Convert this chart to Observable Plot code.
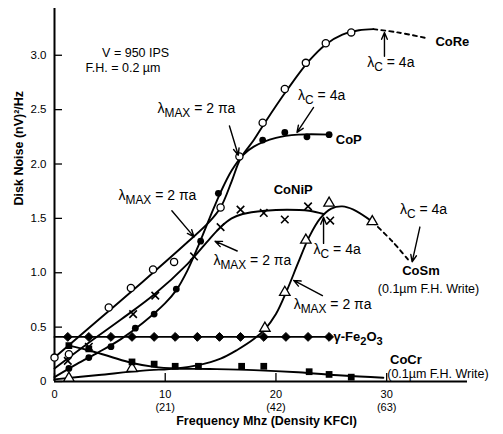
<!DOCTYPE html>
<html><head><meta charset="utf-8">
<script src="https://cdn.jsdelivr.net/npm/d3@7"></script>
<script src="https://cdn.jsdelivr.net/npm/@observablehq/plot@0.6"></script>
<style>body{margin:0;background:#fff;}</style>
</head><body><div id="chart"></div>
<script>
// ---- axes ----
const xTicks = [0, 10, 20, 30];
const xTickLabels = ["0", "10\n(21)", "20\n(42)", "30\n(63)"];
const yTicks = [0, 0.5, 1, 1.5, 2, 2.5, 3];
const yTickLabels = ["0", "0.5", "1.0", "1.5", "2.0", "2.5", "3.0"];

// ---- CoRe (open circles) ----
const coreX = [0, 1.3, 4.9, 6.9, 8.9, 10.8, 15.0, 16.7, 18.8, 20.8, 22.7, 24.5, 26.8];
const coreY = [0.22, 0.25, 0.68, 0.86, 1.03, 1.10, 1.60, 2.07, 2.38, 2.69, 2.93, 3.11, 3.21];
const coreLineX = [0, 4, 8, 12, 14, 15, 16, 16.8, 18, 19, 21, 23, 24.5, 26, 27.5, 28.8];
const coreLineY = [0.22, 0.57, 0.92, 1.28, 1.47, 1.60, 1.84, 2.05, 2.22, 2.38, 2.68, 2.95, 3.10, 3.19, 3.23, 3.24];
const coreDashX = [28.8, 31, 33.5];
const coreDashY = [3.24, 3.21, 3.16];

// ---- CoP (filled circles) ----
const copX = [1.3, 3.1, 5.1, 7.3, 9.0, 11.0, 13.2, 14.8, 18.8, 20.8, 22.8, 24.8];
const copY = [0.12, 0.22, 0.32, 0.49, 0.62, 0.85, 1.29, 1.73, 2.22, 2.29, 2.25, 2.27];
const copLineX = [0, 2, 4, 6, 8, 10, 11, 12, 13, 14, 15, 16, 17, 18, 20, 22, 25];
const copLineY = [0.04, 0.16, 0.27, 0.39, 0.54, 0.72, 0.84, 1.02, 1.25, 1.50, 1.74, 1.94, 2.08, 2.16, 2.24, 2.27, 2.27];

// ---- CoNiP (x marks) ----
const conipX = [1.2, 3.1, 7.1, 9.1, 12.6, 15.0, 16.8, 18.9, 20.8, 22.9, 24.9];
const conipY = [0.19, 0.32, 0.62, 0.79, 1.15, 1.42, 1.58, 1.55, 1.49, 1.61, 1.48];
const conipLineX = [0, 3, 6, 9, 12, 14, 15, 16, 17, 19, 21, 23, 24.3];
const conipLineY = [0.12, 0.35, 0.57, 0.80, 1.08, 1.31, 1.42, 1.50, 1.54, 1.57, 1.58, 1.57, 1.54];

// ---- CoSm (open triangles) ----
const cosmX = [1.3, 7.0, 19.0, 20.8, 22.7, 24.8, 28.7];
const cosmY = [0.03, 0.12, 0.49, 0.82, 1.30, 1.64, 1.47];
const cosmLineX = [0, 4, 8, 11, 13, 15, 16.5, 18, 19, 20, 21, 22, 23, 24, 25, 26, 27, 28.7];
const cosmLineY = [0.02, 0.06, 0.10, 0.12, 0.15, 0.21, 0.29, 0.39, 0.48, 0.62, 0.84, 1.09, 1.33, 1.50, 1.59, 1.61, 1.58, 1.47];
const cosmDashX = [28.7, 30.5, 32.1];
const cosmDashY = [1.47, 1.29, 1.10];

// ---- gamma-Fe2O3 (filled diamonds) ----
const fe2o3X = [1.2, 3.1, 5.1, 7.0, 9.0, 10.9, 12.9, 14.9, 16.8, 18.9, 20.9, 22.9, 24.8];
const fe2o3Y = [0.41, 0.41, 0.41, 0.41, 0.41, 0.41, 0.41, 0.41, 0.41, 0.41, 0.41, 0.41, 0.41];
const fe2o3LineX = [0, 24.8];
const fe2o3LineY = [0.41, 0.41];

// ---- CoCr (filled squares) ----
const cocrX = [1.3, 3.1, 7.0, 9.0, 10.9, 13.0, 16.9, 18.9, 23.0, 24.8, 26.8];
const cocrY = [0.33, 0.30, 0.18, 0.16, 0.14, 0.14, 0.14, 0.14, 0.09, 0.065, 0.04];
const cocrLineX = [1.3, 3, 5, 7, 9, 11, 14, 18, 22, 26, 29.7];
const cocrLineY = [0.33, 0.29, 0.23, 0.17, 0.135, 0.12, 0.115, 0.105, 0.085, 0.055, 0.035];

// ---- annotations ----
const noteText = ["V = 950 IPS", "F.H. = 0.2 µm",
  "λ_{MAX} = 2 πa", "λ_{MAX} = 2 πa", "λ_{MAX} = 2 πa", "λ_{MAX} = 2 πa",
  "λ_{C} = 4a", "λ_{C} = 4a", "λ_{C} = 4a", "λ_{C} = 4a"];
const noteX = [4.3, 2.8, 9.3, 5.78, 14.35, 21.6, 22.0, 28.25, 31.2, 23.4];
const noteY = [3.02, 2.885, 2.51, 1.71, 1.11, 0.71, 2.63, 2.93, 1.58, 1.21];
const noteSize = [12.5, 12.5, 14, 14, 14, 14, 14, 14, 14, 14];

const nameText = ["CoRe", "CoP", "CoNiP", "CoSm", "γ-Fe_{2}O_{3}", "CoCr"];
const nameX = [34.4, 25.4, 19.8, 31.4, 25.2, 30.3];
const nameY = [3.12, 2.22, 1.76, 1.02, 0.41, 0.195];
const subText = ["(0.1µm F.H. Write)", "(0.1µm F.H. Write)"];
const subX = [29.2, 30.05];
const subY = [0.85, 0.065];

const arrowX1 = [15.8, 10.6, 16.5, 24.2, 23.4, 29.8, 33.0, 24.3];
const arrowY1 = [2.35, 1.57, 1.20, 0.79, 2.52, 2.99, 1.42, 1.27];
const arrowX2 = [16.6, 12.6, 14.5, 21.6, 21.9, 29.8, 32.3, 24.3];
const arrowY2 = [2.08, 1.33, 1.29, 0.93, 2.29, 3.21, 1.10, 1.51];

const pts = (xs, ys) => xs.map((x, i) => ({x, y: ys[i]}));
const notes = noteText.map((t, i) => ({t, x: noteX[i], y: noteY[i], s: noteSize[i]}));
const names = nameText.map((t, i) => ({t, x: nameX[i], y: nameY[i]}));
const subs = subText.map((t, i) => ({t, x: subX[i], y: subY[i]}));
const arrows = arrowX1.map((x1, i) => ({x1, y1: arrowY1[i], x2: arrowX2[i], y2: arrowY2[i]}));

const lw = 1.9;
const line = (xs, ys, extra = {}) => Plot.line(pts(xs, ys), {x: "x", y: "y", curve: "catmull-rom", stroke: "black", strokeWidth: lw, ...extra});

const chart = Plot.plot({
  width: 503, height: 434,
  marginLeft: 54, marginRight: 36, marginTop: 8, marginBottom: 53,
  x: {domain: [0, 37.3], label: null},
  y: {domain: [0, 3.43], label: null},
  style: {fontFamily: "'Liberation Sans', Arial, sans-serif", fontSize: "11px", background: "white", color: "black"},
  marks: [
    Plot.ruleX([0], {strokeWidth: 2}),
    Plot.ruleY([0], {strokeWidth: 2}),
    Plot.axisY({ticks: yTicks, tickSize: 8, dx: 8, tickPadding: 8, strokeWidth: 1.3,
      tickFormat: d => yTickLabels[yTicks.indexOf(d)], fontSize: 11.5, label: null}),
    Plot.axisX({ticks: xTicks, tickSize: 8, dy: -8, tickPadding: 7, strokeWidth: 1.3,
      tickFormat: d => xTickLabels[xTicks.indexOf(d)], fontSize: 11, lineHeight: 1.18, label: null}),
    line(coreLineX, coreLineY),
    line(coreDashX, coreDashY, {strokeDasharray: "4,4"}),
    line(copLineX, copLineY),
    line(conipLineX, conipLineY),
    line(cosmLineX, cosmLineY),
    line(cosmDashX, cosmDashY, {strokeDasharray: "4,4"}),
    line(fe2o3LineX, fe2o3LineY, {curve: "linear"}),
    line(cocrLineX, cocrLineY),
    Plot.dot(pts(coreX, coreY), {x: "x", y: "y", r: 3.6, fill: "white", stroke: "black", strokeWidth: 1.3}),
    Plot.dot(pts(copX, copY), {x: "x", y: "y", r: 3.4, fill: "black", stroke: "none"}),
    Plot.dot(pts(conipX, conipY), {x: "x", y: "y", r: 3.5, symbol: "times", stroke: "black", strokeWidth: 1.6}),
    Plot.dot(pts(cosmX, cosmY), {x: "x", y: "y", r: 3.9, symbol: "triangle", fill: "white", stroke: "black", strokeWidth: 1.3}),
    Plot.dot(pts(fe2o3X, fe2o3Y), {x: "x", y: "y", r: 4, symbol: "diamond2", fill: "black", stroke: "black", strokeWidth: 1}),
    Plot.dot(pts(cocrX, cocrY), {x: "x", y: "y", r: 3.8, symbol: "square", fill: "black", stroke: "none"}),
    Plot.arrow(arrows, {x1: "x1", y1: "y1", x2: "x2", y2: "y2", stroke: "black", strokeWidth: 1.4, headLength: 8, headAngle: 45}),
    Plot.text(notes, {x: "x", y: "y", text: "t", textAnchor: "start", fontSize: d => d.s, fill: "black"}),
    Plot.text(names, {x: "x", y: "y", text: "t", textAnchor: "start", fontSize: 13, fontWeight: "bold", fill: "black"}),
    Plot.text(subs, {x: "x", y: "y", text: "t", textAnchor: "start", fontSize: 12.5, fill: "black"}),
    Plot.text(["Disk Noise (nV)²/Hz"], {frameAnchor: "left", dx: -36, dy: 10.5, rotate: -90, fontSize: 12.5, fontWeight: "bold", fill: "black"}),
    Plot.text(["Frequency Mhz (Density KFCI)"], {frameAnchor: "bottom", dx: 5.5, dy: 43, fontSize: 12.5, fontWeight: "bold", fill: "black"})
  ]
});

// subscripts: turn "_{...}" into lowered tspans
chart.querySelectorAll("text").forEach(t => {
  const s = t.textContent;
  if (!s.includes("_{")) return;
  const parts = s.split(/(_\{[^}]*\})/).filter(p => p);
  while (t.firstChild) t.removeChild(t.firstChild);
  let sub = false;
  parts.forEach(p => {
    const ts = document.createElementNS("http://www.w3.org/2000/svg", "tspan");
    if (p.startsWith("_{")) {
      ts.textContent = p.slice(2, -1);
      ts.setAttribute("dy", "4");
      ts.setAttribute("font-size", "0.85em");
      sub = true;
    } else {
      ts.textContent = p;
      if (sub) { ts.setAttribute("dy", "-4"); sub = false; }
    }
    t.appendChild(ts);
  });
});

document.getElementById("chart").appendChild(chart);
</script>
</body></html>
